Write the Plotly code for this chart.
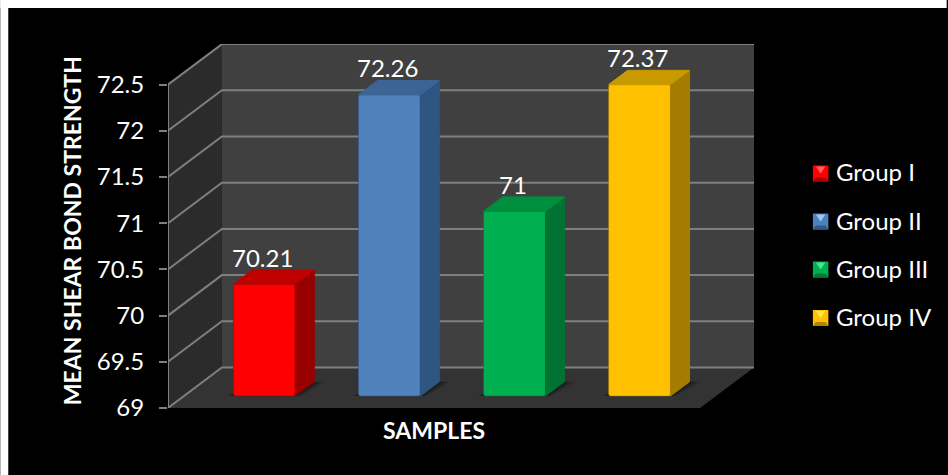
import plotly.graph_objects as go

# Chart content
groups = ["Group I", "Group II", "Group III", "Group IV"]
strength = [70.21, 72.26, 71, 72.37]
tick_values = [69, 69.5, 70, 70.5, 71, 71.5, 72, 72.5]
tick_labels = ["69", "69.5", "70", "70.5", "71", "71.5", "72", "72.5"]

# Face colours per group: front, side, top, key highlight, key band
front_colors = ["#ff0000", "#4f81bd", "#00b050", "#ffc000"]
side_colors = ["#980000", "#2f5581", "#007332", "#a67c00"]
top_colors = ["#bf0000", "#3c6596", "#008f3e", "#c99a00"]
light_colors = ["#ff6060", "#9cc6f5", "#40e890", "#ffe84a"]
dark_colors = ["#a80000", "#35587f", "#007a38", "#b08400"]

FONT = "Lato, Carlito, Calibri, sans-serif"
WIDTH, HEIGHT = 948, 475

# Plot area in pixels
LEFT, RIGHT, TOP, BOTTOM = 168, 755, 44, 408
PX_PER_CAT = 125.3
PX_PER_VAL = 92.4
FIRST_BAR_PX = 264.5

# Oblique projection of the box: depth goes up and to the right
DX = 54 / PX_PER_CAT
DV = 40.5 / PX_PER_VAL
BAR_NEAR = 16 / 54      # depth of a bar's front face, as a share of the box
BAR_FAR = 35 / 54       # depth of a bar's back face
BAR_WIDTH = 0.495

XMIN = (LEFT - FIRST_BAR_PX) / PX_PER_CAT
XMAX = (RIGHT - FIRST_BAR_PX) / PX_PER_CAT
VMIN, VMAX = 69, 72.5
YMAX = VMIN + (BOTTOM - TOP) / PX_PER_VAL

# Legend key squares, drawn behind the legend's text
KEY_LEFT, KEY_RIGHT = 814, 829.5
KEY_CENTERS = [173.5, 221.5, 269.5, 318]
KEY_HALF = 8


def polygon(points):
    return "M" + "L".join(f"{x:.4f},{y:.4f}" for x, y in points) + "Z"


def polyline(points):
    return "M" + "L".join(f"{x:.4f},{y:.4f}" for x, y in points)


def paper_x(px):
    return (px - LEFT) / (RIGHT - LEFT)


def paper_y(px):
    return (BOTTOM - px) / (BOTTOM - TOP)


def fill_shape(points, color, opacity=1.0):
    return dict(type="path", xref="x", yref="y", layer="below", path=polygon(points),
                fillcolor=color, opacity=opacity, line=dict(width=0))


def paper_polygon(points, color):
    return dict(type="path", xref="paper", yref="paper", layer="above",
                path=polygon([(paper_x(x), paper_y(y)) for x, y in points]),
                fillcolor=color, line=dict(width=0))


def wall_box_shapes():
    shapes = [
        # white strips along the top and left page edges
        dict(type="rect", xref="paper", yref="paper", layer="below",
             x0=paper_x(0), x1=paper_x(WIDTH), y0=paper_y(0), y1=paper_y(8),
             fillcolor="#ffffff", line=dict(width=0)),
        dict(type="rect", xref="paper", yref="paper", layer="below",
             x0=paper_x(0), x1=paper_x(8), y0=paper_y(0), y1=paper_y(HEIGHT),
             fillcolor="#ffffff", line=dict(width=0)),
        # side wall, back wall, floor
        fill_shape([(XMIN, VMIN), (XMIN + DX, VMIN + DV), (XMIN + DX, VMAX + DV), (XMIN, VMAX)], "#2b2b2b"),
        fill_shape([(XMIN + DX, VMIN + DV), (XMAX, VMIN + DV), (XMAX, VMAX + DV), (XMIN + DX, VMAX + DV)], "#404040"),
        fill_shape([(XMIN, VMIN), (XMAX - DX, VMIN), (XMAX, VMIN + DV), (XMIN + DX, VMIN + DV)], "#333333"),
    ]
    # gridlines run along the side wall and across the back wall
    for tick in tick_values:
        shapes.append(dict(type="path", xref="x", yref="y", layer="below",
                           path=polyline([(XMIN, tick), (XMIN + DX, tick + DV), (XMAX, tick + DV)]),
                           line=dict(color="#7f7f7f", width=2)))
    # axis line on the front edge of the side wall
    shapes.append(dict(type="line", xref="x", yref="y", layer="below",
                       x0=XMIN, x1=XMIN, y0=VMIN, y1=VMAX,
                       line=dict(color="#7f7f7f", width=2)))
    return shapes


def bar_shadow_shapes():
    shapes = []
    half = BAR_WIDTH / 2
    depth = BAR_FAR - BAR_NEAR
    for i in range(len(groups)):
        for grow, alpha in ((0.09, 0.12), (0.06, 0.16), (0.03, 0.20)):
            y0 = VMIN + BAR_NEAR * DV
            y1 = y0 + depth * DV
            shapes.append(fill_shape([
                (i - half - grow * 0.6, y0),
                (i + half + grow * 0.5, y0),
                (i + half + depth * DX + grow, y1),
                (i - half + depth * DX, y1),
            ], "#000000", alpha))
    return shapes


def legend_key_shapes():
    shapes = []
    for i, center in enumerate(KEY_CENTERS):
        top, bottom = center - KEY_HALF, center + KEY_HALF
        mid = (KEY_LEFT + KEY_RIGHT) / 2
        # bevelled square: base, darker lower band, bright wedge from the top edge
        shapes.append(paper_polygon([(KEY_LEFT, top), (KEY_RIGHT, top), (KEY_RIGHT, bottom), (KEY_LEFT, bottom)],
                                    front_colors[i]))
        shapes.append(paper_polygon([(KEY_LEFT, bottom), (KEY_LEFT + 3, bottom - 4), (KEY_RIGHT - 3, bottom - 4),
                                     (KEY_RIGHT, bottom)], dark_colors[i]))
        shapes.append(paper_polygon([(KEY_LEFT + 3, top + 1), (KEY_RIGHT - 3, top + 1), (mid, top + 8)],
                                    light_colors[i]))
    return shapes


fig = go.Figure()

# Front faces of the bars
floor_value = VMIN + BAR_NEAR * DV
for i, (name, value) in enumerate(zip(groups, strength)):
    fig.add_trace(go.Bar(
        x=[i], y=[value - VMIN], base=[floor_value], width=BAR_WIDTH,
        name=name, legendgroup=name, showlegend=False,
        marker=dict(color=front_colors[i], line=dict(color=side_colors[i], width=0.5)),
        hovertemplate=f"{name}: {value:g}<extra></extra>",
    ))

# Side and top faces of the bars
for i, value in enumerate(strength):
    half = BAR_WIDTH / 2
    depth = BAR_FAR - BAR_NEAR
    top = value + BAR_NEAR * DV
    right, left = i + half, i - half
    dx, dv = depth * DX, depth * DV
    side = [(right, floor_value), (right + dx, floor_value + dv), (right + dx, top + dv), (right, top)]
    cap = [(left, top), (left + dx, top + dv), (right + dx, top + dv), (right, top)]
    for pts, color in ((side, side_colors[i]), (cap, top_colors[i])):
        fig.add_trace(go.Scatter(
            x=[p[0] for p in pts] + [pts[0][0]], y=[p[1] for p in pts] + [pts[0][1]],
            mode="lines", fill="toself", fillcolor=color,
            line=dict(color=color, width=1), showlegend=False, hoverinfo="skip",
        ))

# Legend entries; their bevelled keys are drawn as shapes underneath
for i, name in enumerate(groups):
    fig.add_trace(go.Scatter(
        x=[None], y=[None], mode="markers", name=name, legendgroup=name, showlegend=True,
        marker=dict(symbol="square", size=15, color="rgba(0,0,0,0)", line=dict(width=0)),
    ))

annotations = []
for i, value in enumerate(strength):
    annotations.append(dict(
        x=i, y=value + BAR_NEAR * DV, xref="x", yref="y", text=f"{value:g}", showarrow=False,
        xshift=-2, yshift=27, xanchor="center", yanchor="middle",
        font=dict(family=FONT, size=24, color="#ffffff"),
    ))
annotations.append(dict(
    x=paper_x(434), y=paper_y(430), xref="paper", yref="paper", text="<b>SAMPLES</b>",
    showarrow=False, xanchor="center", yanchor="middle",
    font=dict(family=FONT, size=23, color="#ffffff"),
))
annotations.append(dict(
    x=paper_x(72), y=paper_y(231), xref="paper", yref="paper",
    text="<b>MEAN SHEAR BOND STRENGTH</b>", textangle=-90,
    showarrow=False, xanchor="center", yanchor="middle",
    font=dict(family=FONT, size=23, color="#ffffff"),
))

fig.update_layout(
    width=WIDTH, height=HEIGHT, autosize=False,
    margin=dict(l=LEFT, r=WIDTH - RIGHT, t=TOP, b=HEIGHT - BOTTOM, pad=0),
    paper_bgcolor="#000000", plot_bgcolor="rgba(0,0,0,0)",
    barcornerradius=2,
    font=dict(family=FONT, color="#ffffff"),
    shapes=wall_box_shapes() + bar_shadow_shapes() + legend_key_shapes(),
    annotations=annotations,
    legend=dict(
        x=paper_x(796), y=paper_y(150), xanchor="left", yanchor="top",
        traceorder="grouped", tracegroupgap=14,
        bgcolor="rgba(0,0,0,0)", borderwidth=0,
        font=dict(family=FONT, size=24, color="#ffffff"),
    ),
    xaxis=dict(range=[XMIN, XMAX], visible=False, fixedrange=True),
    yaxis=dict(
        range=[VMIN, YMAX], tickmode="array", tickvals=tick_values, ticktext=tick_labels,
        showgrid=False, zeroline=False, showline=False, ticks="outside", ticklen=8,
        tickwidth=2, tickcolor="#7f7f7f", ticklabelstandoff=10,
        tickfont=dict(family=FONT, size=24, color="#ffffff"), fixedrange=True,
    ),
)

fig.write_html("out.html")
